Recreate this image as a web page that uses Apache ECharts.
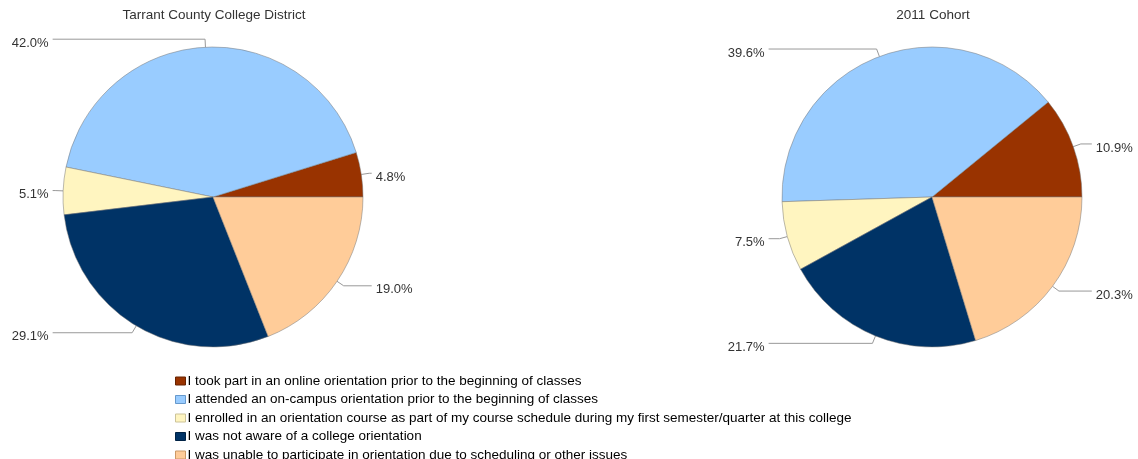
<!DOCTYPE html>
<html>
<head>
<meta charset="utf-8">
<script src="https://cdn.jsdelivr.net/npm/echarts@6/dist/echarts.min.js"></script>
<style>
  html, body { margin: 0; padding: 0; background: #fff; }
  #chart { width: 1138px; height: 459px; }
</style>
</head>
<body>
<div id="chart"></div>
<script>
  // categories (legend order)
  const categories = [
    'I took part in an online orientation prior to the beginning of classes',
    'I attended an on-campus orientation prior to the beginning of classes',
    'I enrolled in an orientation course as part of my course schedule during my first semester/quarter at this college',
    'I was not aware of a college orientation',
    'I was unable to participate in orientation due to scheduling or other issues'
  ];
  // percent values
  const districtValues = [4.8, 42.0, 5.1, 29.1, 19.0];
  const cohortValues = [10.9, 39.6, 7.5, 21.7, 20.3];
  const colors = ['#993300', '#99ccff', '#fff5c0', '#003366', '#ffcc99'];
  const borderColors = ['#662200', '#6699cc', '#ccc399', '#002244', '#cc9966'];
  const titles = ['Tarrant County College District', '2011 Cohort'];

  const chart = echarts.init(document.getElementById('chart'));

  function makePie(name, values, box) {
    return {
      name: name,
      type: 'pie',
      left: box.left,
      width: box.width,
      top: 0,
      height: 459,
      center: [box.cx, 197],
      radius: 150,
      startAngle: 0,
      clockwise: false,
      avoidLabelOverlap: true,
      itemStyle: {
        borderColor: '#777',
        borderWidth: 0.5
      },
      label: {
        show: true,
        formatter: p => '{v|' + p.value.toFixed(1) + '%}',
        fontFamily: 'Liberation Sans, Arial, sans-serif',
        fontSize: 13,
        color: '#333',
        alignTo: 'labelLine',
        edgeDistance: 0,
        distanceToLabelLine: 4,
        overflow: 'none',
        rich: {
          v: {
            fontFamily: 'Liberation Sans, Arial, sans-serif',
            fontSize: 13,
            color: '#333',
            padding: [8, 0, 0, 0] // text sits a bit below the line end
          }
        }
      },
      labelLine: {
        show: true,
        length: 8,
        length2: box.len2,
        lineStyle: { color: '#999', width: 1 }
      },
      emphasis: { disabled: true },
      data: categories.map((c, i) => ({
        name: c,
        value: values[i],
        itemStyle: { color: colors[i] }
      }))
    };
  }

  const titleStyle = { fontFamily: 'Liberation Sans, Arial, sans-serif', fontSize: 13.5, fontWeight: 'normal', color: '#333' };

  const option = {
    backgroundColor: '#fff',
    animation: false,
    color: colors,
    title: [
      { text: titles[0], left: 214, top: 8, padding: 0, textAlign: 'center', textStyle: titleStyle },
      { text: titles[1], left: 933, top: 8, padding: 0, textAlign: 'center', textStyle: titleStyle }
    ],
    legend: {
      orient: 'vertical',
      left: 170,
      top: 369,
      height: 150,
      itemWidth: 10,
      itemHeight: 8,
      itemGap: 4.5,
      icon: 'rect',
      data: categories.map((c, i) => ({
        name: c,
        itemStyle: { color: colors[i], borderColor: borderColors[i], borderWidth: 1 }
      })),
      selectedMode: false,
      textStyle: { fontFamily: 'Liberation Sans, Arial, sans-serif', fontSize: 13.5, color: '#000', padding: [0, 0, 0, -3] }
    },
    series: [
      makePie(titles[0], districtValues, { left: 0, width: 426, cx: '50%', len2: 2.5 }),
      makePie(titles[1], cohortValues, { left: 726, width: 412, cx: '50%', len2: 11 })
    ]
  };

  chart.setOption(option);
  window.addEventListener('resize', () => chart.resize());
</script>
</body>
</html>
